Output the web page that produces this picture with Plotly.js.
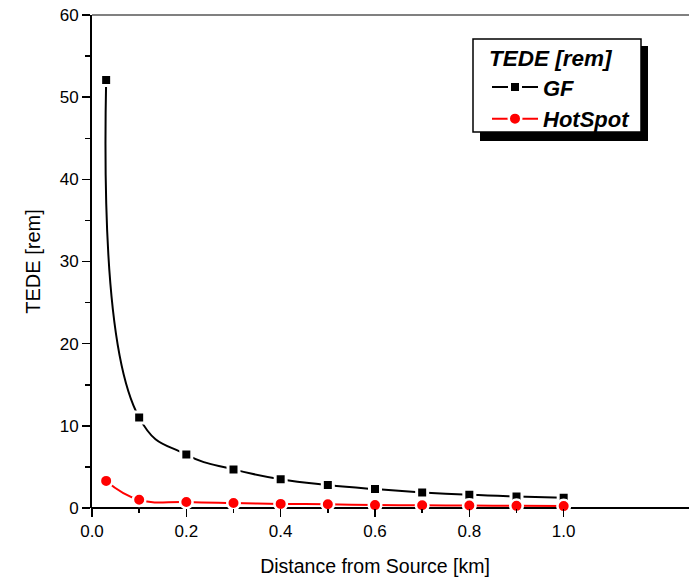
<!DOCTYPE html>
<html>
<head>
<meta charset="utf-8">
<script src="https://cdn.plot.ly/plotly-3.0.1.min.js"></script>
<style>
html,body{margin:0;padding:0;background:#fff;}
#chart{width:689px;height:582px;}
</style>
</head>
<body>
<div id="chart"></div>
<script>
const distanceKm = [0.03, 0.1, 0.2, 0.3, 0.4, 0.5, 0.6, 0.7, 0.8, 0.9, 1.0];
const gfTede = [52.1, 11.0, 6.5, 4.7, 3.5, 2.8, 2.3, 1.9, 1.6, 1.4, 1.25];
const hotSpotTede = [3.3, 1.0, 0.73, 0.6, 0.5, 0.45, 0.35, 0.33, 0.3, 0.26, 0.23];
const xTickVals = [0, 0.2, 0.4, 0.6, 0.8, 1.0];
const xTickText = ['0.0', '0.2', '0.4', '0.6', '0.8', '1.0'];
const xMinorTickVals = [0.1, 0.3, 0.5, 0.7, 0.9];
const yTickVals = [0, 10, 20, 30, 40, 50, 60];
const yTickText = ['0', '10', '20', '30', '40', '50', '60'];
const yMinorTickVals = [5, 15, 25, 35, 45, 55];

const font = 'Arial, "Liberation Sans", sans-serif';

const traces = [
  {
    x: distanceKm, y: gfTede, name: '<b><i>GF</i></b>',
    mode: 'lines+markers', type: 'scatter', cliponaxis: false,
    line: {color: '#000000', width: 2, shape: 'spline', smoothing: 1.3},
    marker: {symbol: 'square', color: '#000000', size: 11, line: {color: '#ffffff', width: 3}}
  },
  {
    x: distanceKm, y: hotSpotTede, name: '<b><i>HotSpot</i></b>',
    mode: 'lines+markers', type: 'scatter', cliponaxis: false,
    line: {color: '#ff0000', width: 2, shape: 'spline', smoothing: 1.3},
    marker: {symbol: 'circle', color: '#ff0000', size: 12.5, line: {color: '#ffffff', width: 2.5}}
  }
];

// plot area in pixels: left 92, right 658, top 15, bottom 508
const PL = 92, PR = 658, PT = 15, PB = 508;
const px = v => (v - PL) / (PR - PL);
const py = v => 1 - (v - PT) / (PB - PT);

const layout = {
  width: 689, height: 582,
  margin: {l: PL, r: 689 - PR, t: PT, b: 582 - PB},
  paper_bgcolor: '#ffffff', plot_bgcolor: 'rgba(0,0,0,0)',
  font: {family: font, color: '#000000', size: 17},
  showlegend: true,
  xaxis: {
    range: [0, 1.2], showgrid: false, zeroline: false,
    showline: false,
    ticks: 'outside', ticklen: 8, tickwidth: 1.5, tickcolor: '#000000',
    tickmode: 'array', tickvals: xTickVals, ticktext: xTickText,
    tickfont: {family: font, size: 17, color: '#000000'},
    minor: {ticks: 'outside', ticklen: 4, tickwidth: 1.5, tickcolor: '#000000', tickmode: 'array', tickvals: xMinorTickVals, showgrid: false},
    title: {text: 'Distance from Source [km]', font: {family: font, size: 19.5, color: '#000000'}, standoff: 18}
  },
  yaxis: {
    range: [0, 60], showgrid: false, zeroline: false,
    showline: true, linecolor: '#000000', linewidth: 2,
    ticks: 'outside', ticklen: 8, tickwidth: 1.5, tickcolor: '#000000',
    tickmode: 'array', tickvals: yTickVals, ticktext: yTickText,
    tickfont: {family: font, size: 17, color: '#000000'},
    minor: {ticks: 'outside', ticklen: 5, tickwidth: 1.5, tickcolor: '#000000', tickmode: 'array', tickvals: yMinorTickVals, showgrid: false},
    title: {text: 'TEDE [rem]', font: {family: font, size: 20, color: '#000000'}, standoff: 14}
  },
  legend: {
    x: px(487), y: py(37), xanchor: 'left', yanchor: 'top',
    bgcolor: 'rgba(0,0,0,0)', borderwidth: 0,
    font: {family: font, size: 22, color: '#000000'},
    title: {text: '<b><i>TEDE [rem]</i></b>', font: {family: font, size: 22.5, color: '#000000'}},
    tracegroupgap: 0, itemwidth: 46
  },
  shapes: [
    {type: 'line', xref: 'paper', yref: 'paper', x0: 0, x1: px(689), y0: 1, y1: 1,
     line: {color: '#808080', width: 2}, layer: 'below'},
    {type: 'line', xref: 'paper', yref: 'paper', x0: px(91), x1: px(689), y0: 0, y1: 0,
     line: {color: '#000000', width: 2}, layer: 'below'},
    {type: 'rect', xref: 'paper', yref: 'paper',
     x0: px(480), x1: px(648), y0: py(141), y1: py(46),
     fillcolor: '#000000', line: {width: 0}, layer: 'above'},
    {type: 'rect', xref: 'paper', yref: 'paper',
     x0: px(473), x1: px(641), y0: py(132), y1: py(39),
     fillcolor: '#ffffff', line: {width: 1.5, color: '#000000'}, layer: 'above'}
  ]
};

Plotly.newPlot('chart', traces, layout, {displayModeBar: false, staticPlot: true});
</script>
</body>
</html>
